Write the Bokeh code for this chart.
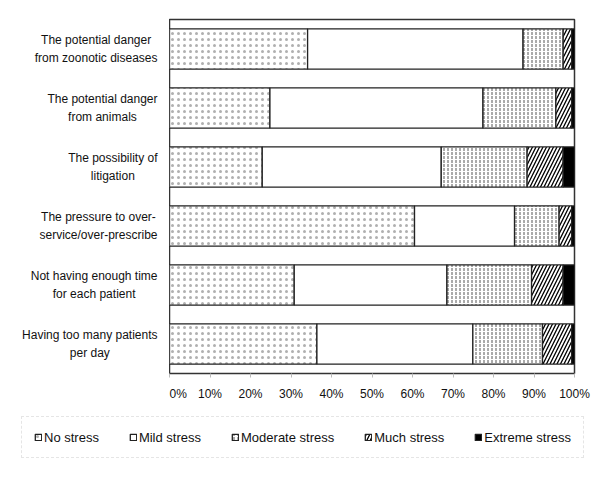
from bokeh.plotting import figure
from bokeh.layouts import column, row
from bokeh.models import FactorRange, Range1d, FixedTicker, PrintfTickFormatter, Legend, LegendItem
from bokeh.core.properties import value
from bokeh.embed import file_html
from bokeh.resources import INLINE

categories = [
    "The potential danger\nfrom zoonotic diseases",
    "The potential danger\nfrom animals",
    "The possibility of\nlitigation",
    "The pressure to over-\nservice/over-prescribe",
    "Not having enough time\nfor each patient",
    "Having too many patients\nper day",
]
levels = ["No stress", "Mild stress", "Moderate stress", "Much stress", "Extreme stress"]
no_stress = [34.1, 24.8, 22.9, 60.5, 30.8, 36.4]
mild_stress = [53.2, 52.6, 44.2, 24.7, 37.7, 38.5]
moderate_stress = [9.9, 18.0, 21.2, 11.0, 20.9, 17.2]
much_stress = [2.1, 3.9, 8.9, 3.1, 7.8, 7.2]
extreme_stress = [0.7, 0.7, 2.8, 0.7, 2.8, 0.7]
x_ticks = [0, 10, 20, 30, 40, 50, 60, 70, 80, 90, 100]

data = {"cat": categories, "No stress": no_stress, "Mild stress": mild_stress,
        "Moderate stress": moderate_stress, "Much stress": much_stress,
        "Extreme stress": extreme_stress}

FONT = "Liberation Sans"
TXT = "#111111"

fills = ["white", "white", "white", "white", "black"]
hatches = ["dot", " ", "vertical_dash", "right_diagonal_line", " "]
hatch_colors = ["#b0b0b0", "black", "#555555", "black", "black"]
hatch_scales = [6, 6, 4, 7, 6]
hatch_weights = [0.7, 1, 1, 1.3, 1]
EDGE = "#222222"

yr = FactorRange(factors=categories[::-1])

# ---- category labels (left) ----
lab = figure(width=169, height=408, output_backend="svg", toolbar_location=None,
             y_range=yr, x_range=Range1d(0, 169),
             x_axis_location=None, y_axis_location=None,
             min_border_left=0, min_border_right=0, min_border_top=19, min_border_bottom=35)
lab.xgrid.visible = False
lab.ygrid.visible = False
lab.outline_line_color = None
lab.text(x=157, y=categories, text=categories, anchor="center_right", text_align="center",
         text_font=value(FONT), text_font_size="12px", text_color=TXT, text_line_height=1.3)

# ---- main bars ----
p = figure(width=423, height=408, output_backend="svg", toolbar_location=None,
           y_range=yr, x_range=Range1d(0, 100),
           min_border_left=0, min_border_right=18, min_border_top=19, min_border_bottom=35)
renderers = p.hbar_stack(levels, y="cat", height=0.68, source=data,
                         fill_color=fills, line_color=EDGE, line_width=1.3,
                         hatch_pattern=hatches, hatch_color=hatch_colors,
                         hatch_scale=hatch_scales, hatch_weight=hatch_weights)
p.xgrid.grid_line_color = None
p.ygrid.grid_line_color = None
p.yaxis.visible = False
p.outline_line_color = "#333333"
p.outline_line_width = 1.5

xa = p.xaxis[0]
xa.ticker = FixedTicker(ticks=x_ticks)
xa.formatter = PrintfTickFormatter(format="%d%%")
xa.axis_line_color = None
xa.major_tick_line_color = "#bbbbbb"
xa.major_tick_in = 0
xa.major_tick_out = 4
xa.minor_tick_line_color = None
xa.major_label_text_font = FONT
xa.major_label_text_font_size = "12px"
xa.major_label_text_color = TXT
xa.major_label_standoff = 9

# ---- legend strip ----
lg = figure(width=592, height=61, output_backend="svg", toolbar_location=None,
            x_range=Range1d(0, 100), y_range=yr,
            x_axis_location=None, y_axis_location=None,
            min_border_left=0, min_border_right=0, min_border_top=0, min_border_bottom=0)
lg.xgrid.visible = False
lg.ygrid.visible = False
lg.outline_line_color = None
proxies = lg.hbar_stack(levels, y="cat", height=0.68, source=data,
                        fill_color=fills, line_color=EDGE, line_width=1.3,
                        hatch_pattern=hatches, hatch_color=hatch_colors,
                        hatch_scale=hatch_scales, hatch_weight=hatch_weights)
for r in proxies:
    r.visible = False
items = [LegendItem(label=lev, renderers=[proxies[i]]) for i, lev in enumerate(levels)]
legend = Legend(items=items, orientation="horizontal", location=(21, 11),
                glyph_width=8, glyph_height=8, label_standoff=2, spacing=30,
                padding=12, label_height=16, margin=0,
                inactive_fill_alpha=0,
                label_text_font=FONT, label_text_font_size="13px", label_text_color=TXT,
                border_line_color="#cccccc", border_line_dash="4 3", border_line_width=1,
                background_fill_alpha=0)
lg.add_layout(legend, "center")

layout = column(row(lab, p), lg)
open("out.html", "w").write(file_html(layout, INLINE))
